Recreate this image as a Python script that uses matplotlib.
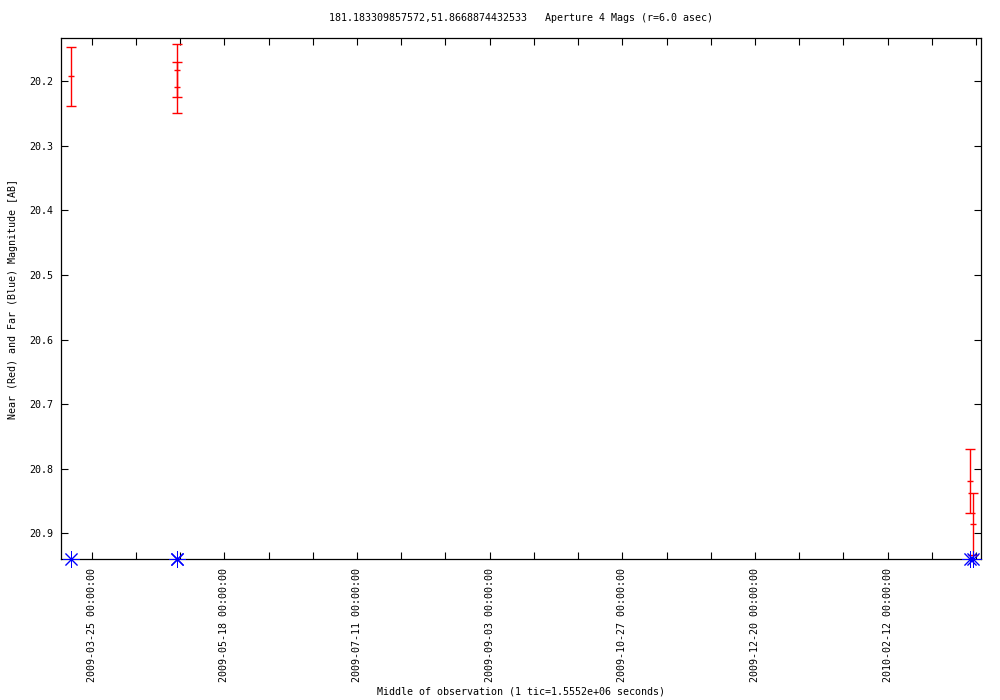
#!/usr/bin/env python3
from datetime import datetime, timedelta

import matplotlib
matplotlib.use("Agg")
import matplotlib.pyplot as plt

OUTPUT_FILE = "out.png"

TITLE = "181.183309857572,51.8668874432533   Aperture 4 Mags (r=6.0 asec)"
YLABEL = "Near (Red) and Far (Blue) Magnitude [AB]"
XLABEL = "Middle of observation (1 tic=1.5552e+06 seconds)"

# observation times (middle of observation)
obs_dates = ["2009-03-16 14:00", "2009-04-28 14:00", "2009-04-28 14:00",
             "2010-03-17 10:00", "2010-03-18 14:00"]
# near aperture magnitudes (red) and their errors
near_mag = [20.1923, 20.1830, 20.2093, 20.8195, 20.886]
near_err = [0.0457, 0.0410, 0.0393, 0.0493, 0.048]
# far aperture magnitudes (blue), sitting on the bottom edge
far_mag = [20.9403, 20.9403, 20.9403, 20.9403, 20.9403]

x_start = "2009-03-12 15:07"
x_end = "2010-03-21 20:24"
y_top = 20.1334
y_bottom = 20.9403
y_ticks = [20.2, 20.3, 20.4, 20.5, 20.6, 20.7, 20.8, 20.9]
first_tic = "2009-03-25"
tic_days = 18
label_every = 3

FONT = "DejaVu Sans Mono"
FS = 7.2


def plot_mags():
    dates = [datetime.strptime(d, "%Y-%m-%d %H:%M") for d in obs_dates]
    x0 = datetime.strptime(x_start, "%Y-%m-%d %H:%M")
    x1 = datetime.strptime(x_end, "%Y-%m-%d %H:%M")

    fig = plt.figure(figsize=(10, 7), dpi=100)
    ax = fig.add_axes([0.0613, 0.2010, 0.9194, 0.7443])

    ax.errorbar(dates, near_mag, yerr=near_err, fmt="_", color="red",
                ecolor="red", elinewidth=1, capsize=3.6, capthick=1,
                markersize=5, markeredgewidth=1, zorder=3)
    ax.plot(dates, far_mag, linestyle="none", marker=(8, 2, 0), color="blue",
            markersize=12, markeredgewidth=0.7, clip_on=False, zorder=4)

    ax.set_xlim(x0, x1)
    ax.set_ylim(y_bottom, y_top)

    # x tics every 18 days, labelled every third one
    t = datetime.strptime(first_tic, "%Y-%m-%d")
    tics, labels = [], []
    i = 0
    while t <= x1:
        tics.append(t)
        labels.append(t.strftime("%Y-%m-%d %H:%M:%S") if i % label_every == 0 else "")
        t += timedelta(days=tic_days)
        i += 1
    ax.set_xticks(tics)
    ax.set_xticklabels(labels, rotation=90, fontsize=FS, family=FONT, va="top")

    ax.set_yticks(y_ticks)
    ax.set_yticklabels([f"{v:.1f}" for v in y_ticks], fontsize=FS, family=FONT)

    ax.tick_params(direction="in", top=True, right=True, length=4.8, width=0.8)
    ax.tick_params(axis="x", pad=6)
    ax.tick_params(axis="y", pad=6)
    for s in ax.spines.values():
        s.set_linewidth(0.9)
        s.set_color("black")

    fig.text(0.521, 1 - 18 / 700, TITLE, ha="center", va="center",
             fontsize=FS, family=FONT)
    fig.text(0.521, 1 - 691 / 700, XLABEL, ha="center", va="center",
             fontsize=FS, family=FONT)
    fig.text(0.013, 1 - 298.8 / 700, YLABEL, ha="center", va="center",
             rotation=90, fontsize=FS, family=FONT)

    fig.savefig(OUTPUT_FILE, dpi=100)


if __name__ == "__main__":
    plot_mags()
